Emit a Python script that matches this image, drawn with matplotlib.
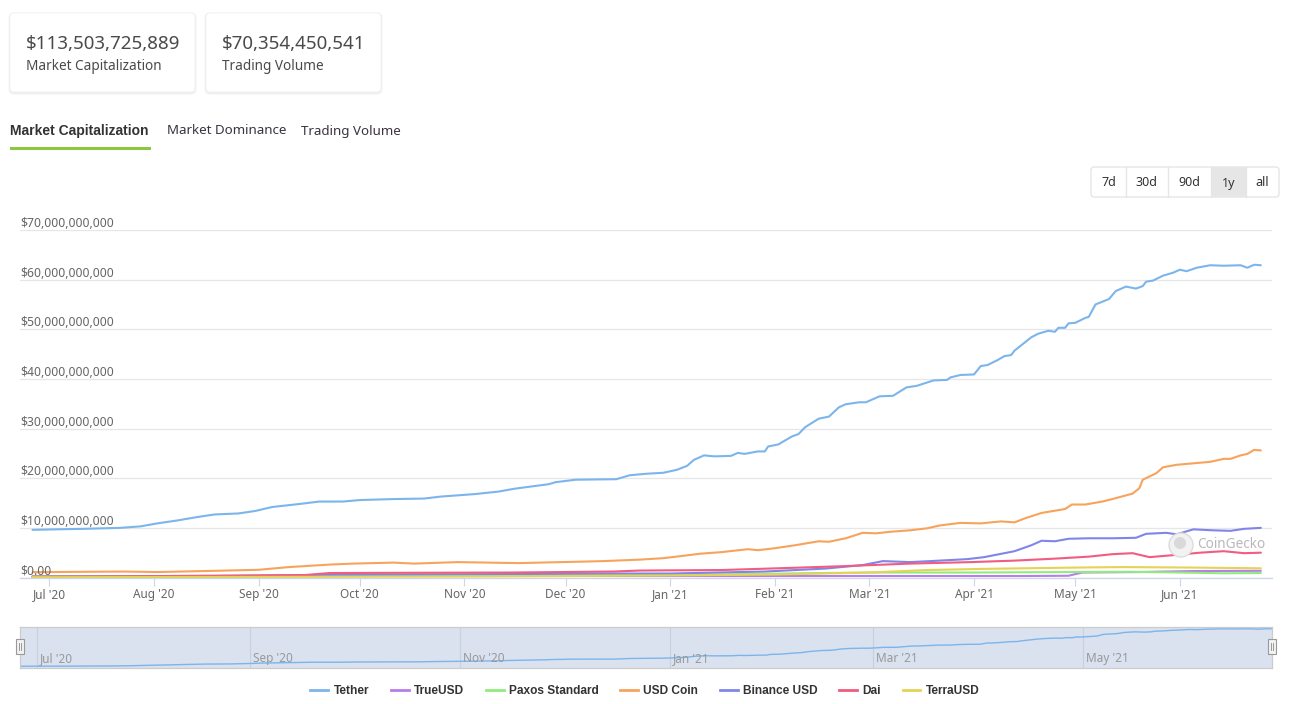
import numpy as np
import pandas as pd
import matplotlib
matplotlib.use("Agg")
import matplotlib.pyplot as plt
import matplotlib.dates as mdates
import matplotlib.transforms as mtransforms
from matplotlib.patches import FancyBboxPatch, Rectangle, Circle
from matplotlib.lines import Line2D

plt.rcParams['font.family'] = ['Noto Sans', 'DejaVu Sans']

# ---- data (billions USD) ----
tether_dates = ['2020-06-26', '2020-07-03', '2020-07-11', '2020-07-22', '2020-07-28', '2020-08-02',
                '2020-08-08', '2020-08-14', '2020-08-19', '2020-08-26', '2020-08-31', '2020-09-05',
                '2020-09-13', '2020-09-19', '2020-09-26', '2020-10-01', '2020-10-11', '2020-10-20',
                '2020-10-25', '2020-11-04', '2020-11-11', '2020-11-16', '2020-11-26', '2020-11-28',
                '2020-12-04', '2020-12-16', '2020-12-20', '2020-12-25', '2020-12-30', '2021-01-03',
                '2021-01-06', '2021-01-08', '2021-01-11', '2021-01-14', '2021-01-19', '2021-01-21',
                '2021-01-23', '2021-01-27', '2021-01-29', '2021-01-30', '2021-02-02', '2021-02-06',
                '2021-02-08', '2021-02-10', '2021-02-14', '2021-02-17', '2021-02-20', '2021-02-22',
                '2021-02-26', '2021-02-28', '2021-03-04', '2021-03-08', '2021-03-12', '2021-03-15',
                '2021-03-20', '2021-03-24', '2021-03-25', '2021-03-28', '2021-04-01', '2021-04-03',
                '2021-04-05', '2021-04-08', '2021-04-10', '2021-04-12', '2021-04-13', '2021-04-18',
                '2021-04-20', '2021-04-23', '2021-04-25', '2021-04-26', '2021-04-28', '2021-04-29',
                '2021-05-01', '2021-05-04', '2021-05-05', '2021-05-07', '2021-05-11', '2021-05-13',
                '2021-05-16', '2021-05-19', '2021-05-21', '2021-05-22', '2021-05-24', '2021-05-27',
                '2021-05-30', '2021-06-01', '2021-06-03', '2021-06-06', '2021-06-10', '2021-06-14',
                '2021-06-19', '2021-06-21', '2021-06-23', '2021-06-25']
tether_vals = [9.6, 9.7, 9.8, 10.0, 10.3, 10.9, 11.5, 12.2, 12.7, 12.9, 13.4, 14.2,
               14.8, 15.3, 15.3, 15.6, 15.8, 15.9, 16.3, 16.8, 17.3, 17.9, 18.8, 19.2,
               19.7, 19.8, 20.6, 20.9, 21.1, 21.7, 22.5, 23.7, 24.6, 24.4, 24.5, 25.1,
               24.9, 25.4, 25.4, 26.4, 26.8, 28.4, 28.9, 30.3, 32.0, 32.4, 34.3, 34.9,
               35.3, 35.3, 36.5, 36.6, 38.3, 38.6, 39.7, 39.8, 40.3, 40.8, 40.9, 42.6,
               42.8, 43.8, 44.6, 44.8, 45.7, 48.4, 49.1, 49.7, 49.5, 50.3, 50.3, 51.2,
               51.3, 52.3, 52.5, 55.0, 56.1, 57.7, 58.6, 58.2, 58.7, 59.6, 59.8, 60.8,
               61.4, 62.0, 61.7, 62.4, 62.9, 62.8, 62.9, 62.4, 63.0, 62.9]

trueusd_dates = ['2020-06-26', '2020-08-15', '2020-10-01', '2020-12-01', '2021-01-15', '2021-03-01',
                 '2021-04-15', '2021-04-29', '2021-05-03', '2021-05-20', '2021-06-05', '2021-06-25']
trueusd_vals = [0.15, 0.2, 0.3, 0.3, 0.3, 0.3, 0.3, 0.35, 1.0, 1.1, 1.3, 1.35]

paxos_dates = ['2020-06-26', '2020-08-15', '2020-10-01', '2020-12-01', '2021-01-15', '2021-02-08',
               '2021-03-01', '2021-04-01', '2021-05-01', '2021-05-17', '2021-06-01', '2021-06-14',
               '2021-06-25']
paxos_vals = [0.25, 0.3, 0.4, 0.45, 0.6, 0.85, 1.0, 1.0, 1.1, 1.15, 1.0, 0.85, 0.9]

usdc_dates = ['2020-06-26', '2020-07-23', '2020-08-02', '2020-08-16', '2020-09-01', '2020-09-10',
              '2020-09-22', '2020-09-29', '2020-10-11', '2020-10-17', '2020-10-30', '2020-11-17',
              '2020-12-06', '2020-12-12', '2020-12-23', '2020-12-30', '2021-01-04', '2021-01-10',
              '2021-01-16', '2021-01-24', '2021-01-27', '2021-02-01', '2021-02-07', '2021-02-14',
              '2021-02-17', '2021-02-22', '2021-02-27', '2021-03-03', '2021-03-07', '2021-03-13',
              '2021-03-18', '2021-03-22', '2021-03-28', '2021-04-03', '2021-04-09', '2021-04-13',
              '2021-04-16', '2021-04-21', '2021-04-28', '2021-04-30', '2021-05-04', '2021-05-09',
              '2021-05-12', '2021-05-18', '2021-05-20', '2021-05-21', '2021-05-25', '2021-05-27',
              '2021-05-31', '2021-06-05', '2021-06-10', '2021-06-14', '2021-06-16', '2021-06-19',
              '2021-06-21', '2021-06-23', '2021-06-25']
usdc_vals = [1.08, 1.2, 1.1, 1.3, 1.55, 2.1, 2.6, 2.8, 3.0, 2.8, 3.1, 2.9,
             3.2, 3.3, 3.6, 3.9, 4.3, 4.8, 5.1, 5.7, 5.5, 5.9, 6.5, 7.3,
             7.2, 7.9, 9.0, 8.9, 9.2, 9.5, 9.9, 10.5, 11.0, 10.9, 11.3, 11.1,
             11.9, 13.0, 13.8, 14.7, 14.7, 15.3, 15.8, 16.9, 18.0, 19.7, 21.0, 22.2,
             22.7, 23.0, 23.3, 23.9, 23.9, 24.6, 24.9, 25.7, 25.6]

busd_dates = ['2020-06-26', '2020-08-01', '2020-09-01', '2020-09-20', '2020-10-15', '2020-11-15',
              '2020-12-15', '2021-01-01', '2021-01-29', '2021-02-16', '2021-02-27', '2021-03-05',
              '2021-03-13', '2021-03-19', '2021-03-30', '2021-04-04', '2021-04-13', '2021-04-18',
              '2021-04-21', '2021-04-25', '2021-04-29', '2021-05-05', '2021-05-12', '2021-05-19',
              '2021-05-22', '2021-05-28', '2021-05-31', '2021-06-05', '2021-06-11', '2021-06-16',
              '2021-06-20', '2021-06-25']
busd_vals = [0.18, 0.2, 0.35, 0.55, 0.6, 0.7, 0.8, 0.8, 1.2, 1.8, 2.5, 3.3,
             3.1, 3.3, 3.7, 4.1, 5.3, 6.5, 7.4, 7.3, 7.8, 7.9, 7.9, 8.0,
             8.8, 9.0, 8.7, 9.7, 9.5, 9.4, 9.8, 10.0]

dai_dates = ['2020-06-26', '2020-07-25', '2020-08-25', '2020-09-15', '2020-09-22', '2020-10-15',
             '2020-11-15', '2020-12-15', '2020-12-23', '2021-01-16', '2021-02-04', '2021-02-22',
             '2021-03-13', '2021-03-31', '2021-04-13', '2021-04-25', '2021-05-05', '2021-05-12',
             '2021-05-18', '2021-05-23', '2021-05-30', '2021-06-07', '2021-06-14', '2021-06-20',
             '2021-06-25']
dai_vals = [0.15, 0.25, 0.4, 0.5, 0.9, 0.95, 1.0, 1.2, 1.4, 1.5, 1.9, 2.3,
            2.8, 3.1, 3.4, 3.8, 4.2, 4.7, 4.9, 4.1, 4.5, 5.0, 5.3, 4.9, 5.0]

terra_dates = ['2020-06-26', '2020-09-01', '2020-11-01', '2020-12-01', '2021-01-01', '2021-02-01',
               '2021-03-01', '2021-03-18', '2021-04-05', '2021-05-01', '2021-05-15', '2021-06-05',
               '2021-06-25']
terra_vals = [0.07, 0.12, 0.2, 0.3, 0.4, 0.6, 1.0, 1.5, 1.75, 2.0, 2.1, 2.0, 1.85]

series_names = ['Tether', 'TrueUSD', 'Paxos Standard', 'USD Coin', 'Binance USD', 'Dai', 'TerraUSD']
series_colors = ['#7cb5ec', '#b77de8', '#90ed7d', '#f7a35c', '#8085e9', '#f15c80', '#e4d354']
series_data = [(tether_dates, tether_vals), (trueusd_dates, trueusd_vals), (paxos_dates, paxos_vals),
               (usdc_dates, usdc_vals), (busd_dates, busd_vals), (dai_dates, dai_vals),
               (terra_dates, terra_vals)]

y_ticks = [0, 10, 20, 30, 40, 50, 60, 70]
card_values = ['$113,503,725,889', '$70,354,450,541']
card_labels = ['Market Capitalization', 'Trading Volume']
tabs = ['Market Capitalization', 'Market Dominance', 'Trading Volume']
range_buttons = ['7d', '30d', '90d', '1y', 'all']

# ---- figure in pixel terms ----
W, H = 1291, 704
fig = plt.figure(figsize=(W / 100, H / 100), dpi=100)
px = mtransforms.IdentityTransform()
BOLD = ['Liberation Sans', 'DejaVu Sans']


def fx(x):
    return x / W


def fy(y):
    return 1 - y / H


def rbox(x0, y0, x1, y1, r=4, **kw):
    p = FancyBboxPatch((x0, H - y1), x1 - x0, y1 - y0,
                       boxstyle='round,pad=0,rounding_size=%g' % r, transform=px, **kw)
    fig.add_artist(p)
    return p


# summary cards
card_x = [(10, 195), (206, 381)]
for (x0, x1), val, lab in zip(card_x, card_values, card_labels):
    rbox(x0 - 2, 12, x1 + 2, 95, r=6, facecolor='#000000', edgecolor='none', alpha=0.025)
    rbox(x0 - 1, 13, x1 + 1, 94, r=5, facecolor='#000000', edgecolor='none', alpha=0.04)
    rbox(x0, 13, x1, 92, r=4, facecolor='white', edgecolor='#f0f0f0', lw=0.5)
    fig.text(fx(x0 + 16), fy(44), val, fontsize=13.5, color='#4a4a4a', va='center', ha='left')
    fig.text(fx(x0 + 16), fy(67), lab, fontsize=9.8, color='#4a4a4a', va='center', ha='left')

# tabs
tab_x = [10, 167, 301]
for i, (t, x) in enumerate(zip(tabs, tab_x)):
    if i == 0:
        fig.text(fx(x), fy(131), t, fontsize=10, color='#333333', va='center', ha='left',
                 family=BOLD, fontweight='bold')
    else:
        fig.text(fx(x), fy(131), t, fontsize=9.6, color='#3a3340', va='center', ha='left')
fig.add_artist(Rectangle((10, H - 149.5), 141, 3, transform=px, facecolor='#8dc63f', edgecolor='none'))

# range selector
bx = [1091, 1126, 1168, 1211, 1246, 1279]
rbox(bx[0], 167, bx[-1], 197, r=3, facecolor='white', edgecolor='#e6e6e6', lw=1)
fig.add_artist(Rectangle((bx[3], H - 197), bx[4] - bx[3], 30, transform=px,
                         facecolor='#e6e6e6', edgecolor='none'))
for i, lab in enumerate(range_buttons):
    if 0 < i:
        fig.add_artist(Line2D([bx[i], bx[i]], [H - 197, H - 167], transform=px, color='#e6e6e6', lw=1))
    fig.text(fx((bx[i] + bx[i + 1]) / 2), fy(183), lab, fontsize=9, color='#333333',
             ha='center', va='center')

# ---- main chart ----
start = pd.Timestamp(tether_dates[0])
end = pd.Timestamp(tether_dates[-1])

ax = fig.add_axes([fx(20), fy(577.5), (1272 - 20) / W, (577.5 - 230) / H])
for (d, v), name, c in zip(series_data, series_names, series_colors):
    ax.plot(pd.to_datetime(d), np.array(v) * 1e9, color=c, lw=1.5, label=name,
            solid_joinstyle='round', solid_capstyle='round')

ax.set_xlim(start - pd.Timedelta(days=3.7), end + pd.Timedelta(days=3.3))
ax.set_ylim(0, 70e9)
ax.set_yticks([v * 1e9 for v in y_ticks])
ax.yaxis.grid(True, color='#e6e6e6', lw=0.9)
ax.set_axisbelow(True)
ax.tick_params(axis='y', length=0, labelleft=False)
for v in y_ticks:
    lab = '$0.00' if v == 0 else '${:,.0f}'.format(v * 1e9)
    ax.text(0.0, v * 1e9, lab, transform=ax.get_yaxis_transform(), ha='left', va='bottom',
            fontsize=8.8, color='#666666')

ax.xaxis.set_major_locator(mdates.MonthLocator())
ax.xaxis.set_major_formatter(mdates.DateFormatter("%b '%y"))
ax.tick_params(axis='x', length=5.5, width=0.8, color='#ccd6eb', labelsize=8.5,
               labelcolor='#666666', pad=2)
for s in ['top', 'right', 'left']:
    ax.spines[s].set_visible(False)
ax.spines['bottom'].set_color('#ccd6eb')
ax.spines['bottom'].set_linewidth(0.9)

# watermark
fig.add_artist(Circle((1181, H - 545), 12, transform=px, facecolor='#f2f2f2', edgecolor='#dcdcdc', lw=1))
fig.add_artist(Circle((1180, H - 543), 6, transform=px, facecolor='#d9d9d9', edgecolor='none'))
fig.text(fx(1197), fy(544), 'CoinGecko', fontsize=9.8, color='#b8b8b8', ha='left', va='center')

# ---- navigator ----
nav = fig.add_axes([fx(20), fy(668), 1252 / W, 41 / H])
nav.set_facecolor('#dae1ef')
t_dates = pd.to_datetime(tether_dates)
t_vals = np.array(tether_vals) * 1e9
nav.plot(t_dates, t_vals, color='#7cb5ec', lw=1)
nav.set_xlim(start, end)
nav.set_ylim(7.1e9, 65.5e9)
nav.xaxis.set_major_locator(mdates.MonthLocator(bymonth=[1, 3, 5, 7, 9, 11]))
nav.xaxis.grid(True, color='#c9cfdc', lw=0.8)
nav.tick_params(length=0, labelbottom=False, labelleft=False)
for d in pd.date_range('2020-07-01', '2021-06-01', freq='2MS'):
    nav.text(d + pd.Timedelta(days=0.8), 0.08, d.strftime("%b '%y"), transform=nav.get_xaxis_transform(),
             fontsize=8.5, color='#999999', ha='left', va='bottom')
for s in nav.spines.values():
    s.set_color('#cccccc')
    s.set_linewidth(0.9)

for hx in (20, 1272):
    fig.add_artist(Rectangle((hx - 4, H - 654), 8, 15, transform=px, facecolor='#f2f2f2',
                             edgecolor='#999999', lw=0.8))
    for dx in (-1, 1):
        fig.add_artist(Line2D([hx + dx, hx + dx], [H - 650, H - 643], transform=px, color='#999999', lw=0.7))

# ---- legend ----
handles = [Line2D([], [], color=c, lw=2) for c in series_colors]
leg = fig.legend(handles, series_names, loc='center', bbox_to_anchor=(fx(645), fy(691)), ncol=7,
                 frameon=False, handlelength=1.5, handletextpad=0.45, columnspacing=1.8,
                 prop={'family': BOLD, 'weight': 'bold', 'size': 8.6})
for t in leg.get_texts():
    t.set_color('#333333')

fig.savefig('out.png', dpi=100)
